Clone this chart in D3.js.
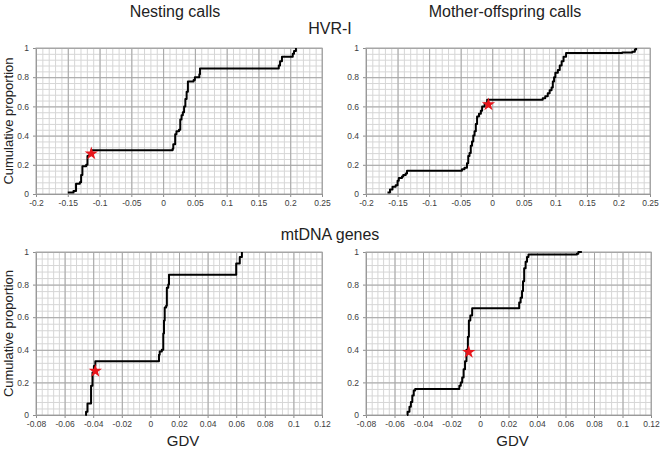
<!DOCTYPE html>
<html><head><meta charset="utf-8">
<script src="https://cdn.jsdelivr.net/npm/d3@7"></script>
<style>body{margin:0;background:#fff}svg{display:block}text{font-family:"Liberation Sans",Arial,sans-serif}</style>
</head><body><svg id="c" width="660" height="453"></svg>
<script>
// ---- data ----
const columnTitles = ["Nesting calls", "Mother-offspring calls"];
const rowTitles = ["HVR-I", "mtDNA genes"];
const xLabel = "GDV";
const yLabel = "Cumulative proportion";

const xTicksHVR = ["-0.2","-0.15","-0.1","-0.05","0","0.05","0.1","0.15","0.2","0.25"];
const xTicksMt = ["-0.08","-0.06","-0.04","-0.02","0","0.02","0.04","0.06","0.08","0.1","0.12"];
const yTicks = ["0","0.2","0.4","0.6","0.8","1"];

// HVR-I, nesting calls
const nestHVR_x = [-0.150,-0.141,-0.137,-0.131,-0.129,-0.127,-0.121,-0.119,-0.116,-0.113,0.015,0.016,0.019,0.021,0.025,0.027,0.029,0.031,0.033,0.035,0.037,0.039,0.048,0.050,0.057,0.058,0.182,0.184,0.187,0.204,0.206,0.209];
const nestHVR_y = [0.01,0.02,0.07,0.08,0.13,0.19,0.20,0.26,0.28,0.30,0.31,0.34,0.41,0.43,0.44,0.51,0.54,0.56,0.60,0.65,0.70,0.77,0.78,0.80,0.82,0.86,0.88,0.91,0.94,0.96,0.98,1.00];
const nestHVR_star = [-0.113, 0.277];

// HVR-I, mother-offspring calls
const moHVR_x = [-0.166,-0.162,-0.158,-0.153,-0.150,-0.148,-0.143,-0.141,-0.137,-0.135,-0.048,-0.044,-0.040,-0.038,-0.036,-0.034,-0.032,-0.030,-0.028,-0.026,-0.024,-0.021,-0.018,-0.016,-0.012,-0.008,0.080,0.084,0.088,0.091,0.094,0.096,0.098,0.100,0.104,0.107,0.110,0.113,0.117,0.206,0.222,0.226,0.228];
const moHVR_y = [0.01,0.03,0.05,0.06,0.09,0.11,0.12,0.13,0.14,0.16,0.17,0.18,0.21,0.26,0.28,0.33,0.36,0.40,0.43,0.48,0.53,0.55,0.57,0.60,0.62,0.645,0.655,0.67,0.69,0.71,0.73,0.77,0.80,0.83,0.85,0.88,0.91,0.94,0.965,0.97,0.975,0.99,1.00];
const moHVR_star = [-0.006, 0.613];

// mtDNA genes, nesting calls
const nestMt_x = [-0.0455,-0.045,-0.044,-0.0415,-0.0405,-0.0395,-0.0385,0.006,0.0065,0.008,0.009,0.0095,0.010,0.011,0.0115,0.0125,0.013,0.060,0.0625,0.064];
const nestMt_y = [0.00,0.02,0.07,0.18,0.26,0.30,0.33,0.37,0.39,0.40,0.50,0.58,0.66,0.67,0.78,0.80,0.86,0.93,0.97,1.00];
const nestMt_star = [-0.0385, 0.27];

// mtDNA genes, mother-offspring calls
const moMt_x = [-0.0512,-0.0508,-0.0495,-0.0485,-0.0475,-0.0465,-0.0455,-0.0145,-0.0135,-0.0125,-0.0115,-0.0105,-0.0095,-0.0085,-0.0078,-0.0068,-0.0055,0.0275,0.0285,0.0295,0.0302,0.031,0.032,0.033,0.034,0.068,0.069,0.0715];
const moMt_y = [0.00,0.02,0.05,0.08,0.12,0.15,0.16,0.18,0.20,0.23,0.28,0.33,0.40,0.48,0.58,0.61,0.655,0.69,0.72,0.76,0.82,0.90,0.94,0.97,0.985,0.99,1.00,1.00];
const moMt_star = [-0.0079, 0.386];

// ---- layout ----
const panels = [
  {l:36, r:322, t:48, b:194, ticks:xTicksHVR, minor:0.01, xs:nestHVR_x, ys:nestHVR_y, star:nestHVR_star},
  {l:366, r:650, t:48, b:194, ticks:xTicksHVR, minor:0.01, xs:moHVR_x, ys:moHVR_y, star:moHVR_star},
  {l:36, r:322, t:252, b:415, ticks:xTicksMt, minor:0.004, xs:nestMt_x, ys:nestMt_y, star:nestMt_star},
  {l:366, r:651, t:252, b:415, ticks:xTicksMt, minor:0.004, xs:moMt_x, ys:moMt_y, star:moMt_star}
];

const svg = d3.select("#c");

panels.forEach((p, i) => {
  const tv = p.ticks.map(Number);
  const x = d3.scaleLinear().domain([tv[0], tv[tv.length-1]]).range([p.l, p.r]);
  const y = d3.scaleLinear().domain([0, 1]).range([p.b, p.t]);
  const g = svg.append("g");
  const h = p.b - p.t, w = p.r - p.l;

  const nx = Math.round((tv[tv.length-1]-tv[0])/p.minor);
  const minorX = d3.range(nx+1).map(k => tv[0] + k*p.minor);
  const minorY = d3.range(26).map(k => k*0.04);

  // minor grid
  g.append("g").attr("transform",`translate(0,${p.b})`)
    .call(d3.axisBottom(x).tickValues(minorX).tickSize(-h).tickFormat(""))
    .call(s => { s.select(".domain").remove(); s.selectAll("line").attr("stroke","#d6d6d6").attr("stroke-width",1); });
  g.append("g").attr("transform",`translate(${p.l},0)`)
    .call(d3.axisLeft(y).tickValues(minorY).tickSize(-w).tickFormat(""))
    .call(s => { s.select(".domain").remove(); s.selectAll("line").attr("stroke","#d6d6d6").attr("stroke-width",1); });
  // major grid
  g.append("g").attr("transform",`translate(0,${p.b})`)
    .call(d3.axisBottom(x).tickValues(tv).tickSize(-h).tickFormat(""))
    .call(s => { s.select(".domain").remove(); s.selectAll("line").attr("stroke","#a6a6a6").attr("stroke-width",1); });
  g.append("g").attr("transform",`translate(${p.l},0)`)
    .call(d3.axisLeft(y).tickValues(yTicks.map(Number)).tickSize(-w).tickFormat(""))
    .call(s => { s.select(".domain").remove(); s.selectAll("line").attr("stroke","#a6a6a6").attr("stroke-width",1); });

  // axes with labels
  g.append("g").attr("transform",`translate(0,${p.b})`)
    .call(d3.axisBottom(x).tickValues(tv).tickSize(3).tickPadding(3).tickFormat((d,k)=>p.ticks[k]))
    .call(s => { s.select(".domain").attr("stroke","#8c8c8c");
      s.selectAll("line").attr("stroke","#8c8c8c");
      s.selectAll("text").attr("fill","#404040").style("font-size","8.5px").style("font-family","'Liberation Sans',Arial,sans-serif"); });
  g.append("g").attr("transform",`translate(${p.l},0)`)
    .call(d3.axisLeft(y).tickValues(yTicks.map(Number)).tickSize(3).tickPadding(4).tickFormat((d,k)=>yTicks[k]))
    .call(s => { s.select(".domain").attr("stroke","#8c8c8c");
      s.selectAll("line").attr("stroke","#8c8c8c");
      s.selectAll("text").attr("fill","#404040").style("font-size","8.5px").style("font-family","'Liberation Sans',Arial,sans-serif"); });
  // right/top border
  g.append("rect").attr("x",p.l).attr("y",p.t).attr("width",w).attr("height",h)
    .attr("fill","none").attr("stroke","#a6a6a6").attr("stroke-width",1);

  // step curve
  const pts = p.xs.map((v,k)=>[v, p.ys[k]]);
  const line = d3.line().x(d=>x(d[0])).y(d=>y(d[1])).curve(d3.curveStepAfter);
  g.append("path").datum(pts).attr("d", line).attr("fill","none")
    .attr("stroke","#000").attr("stroke-width",2).attr("stroke-linejoin","round");

  // star
  g.append("path").attr("d", d3.symbol(d3.symbolStar, 55)())
    .attr("transform",`translate(${x(p.star[0])},${y(p.star[1])})`)
    .attr("fill","#e8161c");

  // y label for left panels
  if (i % 2 === 0) {
    svg.append("text").attr("transform",`translate(13,${(p.t+p.b)/2}) rotate(-90)`)
      .attr("text-anchor","middle").style("font-size","13px").attr("fill","#222").text(yLabel);
  }
  if (i >= 2) {
    svg.append("text").attr("x",(p.l+p.r)/2 + 4).attr("y",446)
      .attr("text-anchor","middle").style("font-size","15px").attr("fill","#222").text(xLabel);
  }
});

svg.append("text").attr("x",175).attr("y",17).attr("text-anchor","middle").style("font-size","16px").attr("fill","#222").text(columnTitles[0]);
svg.append("text").attr("x",505).attr("y",17).attr("text-anchor","middle").style("font-size","16px").attr("fill","#222").text(columnTitles[1]);
svg.append("text").attr("x",330).attr("y",34).attr("text-anchor","middle").style("font-size","16px").attr("fill","#222").text(rowTitles[0]);
svg.append("text").attr("x",330).attr("y",240).attr("text-anchor","middle").style("font-size","16px").attr("fill","#222").text(rowTitles[1]);
</script></body></html>
